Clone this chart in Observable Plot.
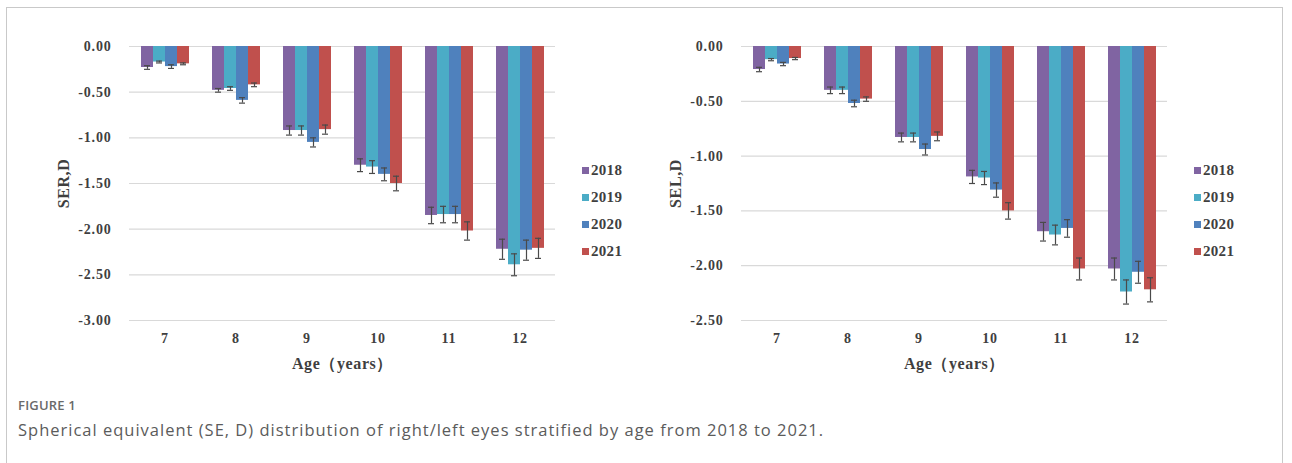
<!DOCTYPE html>
<html>
<head>
<meta charset="utf-8">
<script src="https://cdn.jsdelivr.net/npm/d3@7"></script>
<script src="https://cdn.jsdelivr.net/npm/@observablehq/plot@0.6"></script>
<style>
  html, body { margin: 0; padding: 0; background: #fff; }
  body { width: 1292px; height: 463px; position: relative; overflow: hidden; }
  #frame { position: absolute; left: 6px; top: 7px; width: 1275px; height: 480px;
           border: 1px solid #c9c9c9; border-bottom: none; }
  .panel { position: absolute; top: 0; }
  .panel svg [aria-label="y-axis tick label"] text,
  .panel svg [aria-label="fx-axis tick label"] text { letter-spacing: 0.8px; }
  .panel svg [aria-label="fx-axis label"] text { font-size: 16px; letter-spacing: 0.6px; }
  .panel svg [aria-label="y-axis label"] text { font-size: 16px; letter-spacing: 0.6px; }
  .legend { position: absolute; font: bold 15px "Liberation Serif", serif; color: #3f3f3f; letter-spacing: 0.3px; }
  .legend .row { position: absolute; left: 0; height: 15px; line-height: 15px; white-space: nowrap; }
  .legend .sw { display: inline-block; width: 7px; height: 7px; margin-right: 2px; vertical-align: 1px; }
  #fig { position: absolute; left: 18px; top: 396px; font: 600 13px "Open Sans", sans-serif;
         color: #6a6a6a; letter-spacing: 0.2px; }
  #cap { position: absolute; left: 18px; top: 418px; font: 16.5px "Open Sans", sans-serif; color: #5b5b5b;
         letter-spacing: 1px; white-space: nowrap; }
</style>
</head>
<body>
<div id="frame"></div>
<div id="left" class="panel" style="left:0px"></div>
<div id="right" class="panel" style="left:612px"></div>
<div id="fig">FIGURE 1</div>
<div id="cap">Spherical equivalent (SE, D) distribution of right/left eyes stratified by age from 2018 to 2021.</div>
<script>
// Age groups and survey years
const ages = ["7", "8", "9", "10", "11", "12"];
const years = ["2018", "2019", "2020", "2021"];
const yearColors = ["#8064A2", "#4BACC6", "#4F81BD", "#C0504D"];

// Right eye spherical equivalent (SER, D): mean per year, by age
const ser2018 = [-0.23, -0.48, -0.92, -1.30, -1.85, -2.22];
const ser2019 = [-0.17, -0.46, -0.92, -1.32, -1.84, -2.39];
const ser2020 = [-0.22, -0.59, -1.05, -1.40, -1.84, -2.23];
const ser2021 = [-0.19, -0.42, -0.91, -1.50, -2.02, -2.21];
// Right eye error bar half-widths
const serErr2018 = [0.02, 0.02, 0.05, 0.07, 0.09, 0.11];
const serErr2019 = [0.01, 0.02, 0.05, 0.07, 0.09, 0.12];
const serErr2020 = [0.02, 0.03, 0.05, 0.07, 0.09, 0.11];
const serErr2021 = [0.01, 0.02, 0.05, 0.08, 0.10, 0.11];

// Left eye spherical equivalent (SEL, D)
const sel2018 = [-0.21, -0.40, -0.83, -1.19, -1.69, -2.03];
const sel2019 = [-0.12, -0.40, -0.83, -1.20, -1.72, -2.24];
const sel2020 = [-0.16, -0.52, -0.94, -1.31, -1.66, -2.06];
const sel2021 = [-0.11, -0.48, -0.82, -1.50, -2.03, -2.22];
// Left eye error bar half-widths
const selErr2018 = [0.02, 0.03, 0.04, 0.06, 0.085, 0.10];
const selErr2019 = [0.01, 0.03, 0.04, 0.06, 0.09, 0.11];
const selErr2020 = [0.015, 0.03, 0.05, 0.065, 0.08, 0.10];
const selErr2021 = [0.01, 0.02, 0.04, 0.075, 0.10, 0.11];

// Y tick values for each panel
const serTicks = [0, -0.5, -1, -1.5, -2, -2.5, -3];
const selTicks = [0, -0.5, -1, -1.5, -2, -2.5];

function rowsOf(series, errors) {
  const rows = [];
  years.forEach((year, j) => {
    ages.forEach((age, i) => {
      rows.push({age, year, value: series[j][i], err: errors[j][i]});
    });
  });
  return rows;
}

const textColor = "#3f3f3f";
const errColor = "#4a4a4a";

function panel(rows, ticks, yLabel) {
  return Plot.plot({
    width: 600,
    height: 385,
    marginLeft: 127,
    marginRight: 43,
    marginTop: 46,
    marginBottom: 65,
    style: {fontFamily: "'Liberation Serif', serif", fontSize: "14px", fontWeight: "bold", color: textColor, background: "transparent"},
    fx: {domain: ages, padding: 0, tickSize: 0, tickPadding: 13, label: "Age（years）", labelAnchor: "center", labelOffset: 48, labelArrow: "none"},
    x: {domain: years, paddingInner: 0, paddingOuter: 0.78, axis: null},
    y: {domain: [d3.min(ticks), 0], ticks, tickFormat: d => d.toFixed(2), tickSize: 0, tickPadding: 18,
        label: yLabel, labelAnchor: "center", labelOffset: 72, labelArrow: "none"},
    color: {domain: years, range: yearColors},
    marks: [
      Plot.ruleY(ticks, {stroke: "#d9d9d9", strokeWidth: 1.2}),
      Plot.barY(rows, {fx: "age", x: "year", y: "value", fill: "year"}),
      Plot.ruleX(rows, {fx: "age", x: "year", y1: d => d.value - d.err, y2: d => d.value + d.err, stroke: errColor, strokeWidth: 1.2}),
      Plot.tickY(rows, {fx: "age", x: "year", y: d => d.value - d.err, stroke: errColor, strokeWidth: 1.2, insetLeft: 3, insetRight: 3}),
      Plot.tickY(rows, {fx: "age", x: "year", y: d => d.value + d.err, stroke: errColor, strokeWidth: 1.2, insetLeft: 3, insetRight: 3})
    ]
  });
}

function legend(container, left) {
  const box = document.createElement("div");
  box.className = "legend";
  box.style.left = left + "px";
  box.style.top = "0px";
  years.forEach((year, i) => {
    const row = document.createElement("div");
    row.className = "row";
    row.style.top = (163 + i * 27) + "px";
    const sw = document.createElement("span");
    sw.className = "sw";
    sw.style.background = yearColors[i];
    row.appendChild(sw);
    row.appendChild(document.createTextNode(year));
    box.appendChild(row);
  });
  container.appendChild(box);
}

const leftEl = document.getElementById("left");
leftEl.appendChild(panel(rowsOf([ser2018, ser2019, ser2020, ser2021], [serErr2018, serErr2019, serErr2020, serErr2021]), serTicks, "SER,D"));
legend(leftEl, 582);

const rightEl = document.getElementById("right");
rightEl.appendChild(panel(rowsOf([sel2018, sel2019, sel2020, sel2021], [selErr2018, selErr2019, selErr2020, selErr2021]), selTicks, "SEL,D"));
legend(rightEl, 582);
</script>
</body>
</html>
